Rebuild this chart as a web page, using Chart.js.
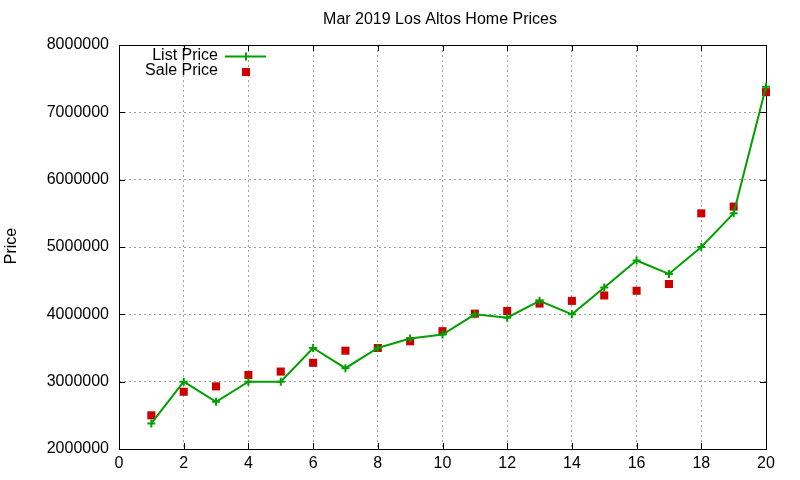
<!DOCTYPE html>
<html>
<head>
<meta charset="utf-8">
<script src="https://cdn.jsdelivr.net/npm/chart.js@4.4.0/dist/chart.umd.min.js"></script>
<style>
html,body{margin:0;padding:0;background:#fff;}
#wrap{width:800px;height:480px;position:relative;}
</style>
</head>
<body>
<div id="wrap"><canvas id="c" width="800" height="480"></canvas></div>
<script>
const chartTitle = "Mar 2019 Los Altos Home Prices";
const yAxisTitle = "Price";
const homeIndex = [1,2,3,4,5,6,7,8,9,10,11,12,13,14,15,16,17,18,19,20];
const listPrice = [2380000,3000000,2700000,3000000,3000000,3500000,3200000,3500000,3640000,3700000,4000000,3950000,4200000,4000000,4400000,4800000,4600000,5000000,5500000,7380000];
const salePrice = [2500000,2850000,2930000,3100000,3150000,3280000,3460000,3500000,3600000,3750000,4010000,4050000,4160000,4200000,4280000,4350000,4450000,5500000,5600000,7300000];
const xTicks = [0,2,4,6,8,10,12,14,16,18,20];
const yTicks = [2000000,3000000,4000000,5000000,6000000,7000000,8000000];
const seriesNames = ["List Price","Sale Price"];

const GREEN = "#00a000";
const RED = "#cc0000";
const FONT = "'Liberation Sans', Arial, sans-serif";

const frame = {
  id: 'frame',
  beforeDatasetsDraw(chart){
    const {ctx, chartArea:a, scales} = chart;
    ctx.save();
    ctx.strokeStyle = '#000';
    ctx.lineWidth = 1;
    const tl = 6;
    ctx.beginPath();
    xTicks.forEach(v=>{
      const x = Math.round(scales.x.getPixelForValue(v))+0.5;
      ctx.moveTo(x,a.bottom); ctx.lineTo(x,a.bottom-tl);
      ctx.moveTo(x,a.top); ctx.lineTo(x,a.top+tl);
    });
    yTicks.forEach(v=>{
      const y = Math.round(scales.y.getPixelForValue(v))+0.5;
      ctx.moveTo(a.left,y); ctx.lineTo(a.left+tl,y);
      ctx.moveTo(a.right,y); ctx.lineTo(a.right-tl,y);
    });
    ctx.stroke();
    ctx.strokeRect(Math.round(a.left)+0.5, Math.round(a.top)+0.5, Math.round(a.right-a.left), Math.round(a.bottom-a.top));
    ctx.restore();
  },
  afterDraw(chart){
    const {ctx} = chart;
    ctx.save();
    ctx.fillStyle = '#000';
    ctx.font = '16px ' + FONT;
    ctx.textAlign = 'center';
    ctx.textBaseline = 'middle';
    ctx.fillText(chartTitle, 440, 20);
    ctx.save();
    ctx.translate(12, 246);
    ctx.rotate(-Math.PI/2);
    ctx.fillText(yAxisTitle, 0, 0);
    ctx.restore();
    ctx.textAlign = 'right';
    ctx.fillText(seriesNames[0], 218, 56);
    ctx.fillText(seriesNames[1], 218, 71);
    ctx.strokeStyle = GREEN;
    ctx.lineWidth = 2;
    ctx.beginPath();
    ctx.moveTo(225,56.5); ctx.lineTo(266,56.5);
    ctx.moveTo(246,52.5); ctx.lineTo(246,60.5);
    ctx.stroke();
    ctx.fillStyle = RED;
    ctx.fillRect(242,68,8,8);
    ctx.restore();
  }
};

new Chart(document.getElementById('c'), {
  type: 'line',
  data: {
    datasets: [
      {
        label: seriesNames[0],
        data: homeIndex.map((x,i)=>({x, y: listPrice[i]})),
        borderColor: GREEN,
        backgroundColor: GREEN,
        borderWidth: 2,
        pointStyle: 'cross',
        pointRadius: 4,
        pointBorderWidth: 2,
        tension: 0,
        fill: false,
        clip: false
      },
      {
        label: seriesNames[1],
        data: homeIndex.map((x,i)=>({x, y: salePrice[i]})),
        showLine: false,
        borderColor: RED,
        backgroundColor: RED,
        pointStyle: 'rect',
        pointRadius: 5.7,
        pointBorderWidth: 0,
        clip: false
      }
    ]
  },
  options: {
    responsive: false,
    animation: false,
    devicePixelRatio: 1,
    layout: { padding: { left: 0, right: 34, top: 45, bottom: 0 } },
    plugins: { legend: { display: false }, title: { display: false }, tooltip: { enabled: false } },
    scales: {
      x: {
        type: 'linear', min: 0, max: 20,
        afterBuildTicks(s){ s.ticks = xTicks.map(v=>({value:v})); },
        afterFit(s){ s.height = 31; },
        grid: { color: '#a0a0a0', drawTicks: false, lineWidth: 1 },
        border: { display: false, dash: [2,3] },
        ticks: { color: '#000', font: { family: FONT, size: 16 }, padding: 5, maxRotation: 0 }
      },
      y: {
        type: 'linear', min: 2000000, max: 8000000,
        afterBuildTicks(s){ s.ticks = yTicks.map(v=>({value:v})); },
        afterFit(s){ s.width = 119; },
        grid: { color: '#a0a0a0', drawTicks: false, lineWidth: 1 },
        border: { display: false, dash: [2,3] },
        ticks: { color: '#000', font: { family: FONT, size: 16 }, padding: 10, callback: v => String(v) }
      }
    }
  },
  plugins: [frame]
});
</script>
</body>
</html>
